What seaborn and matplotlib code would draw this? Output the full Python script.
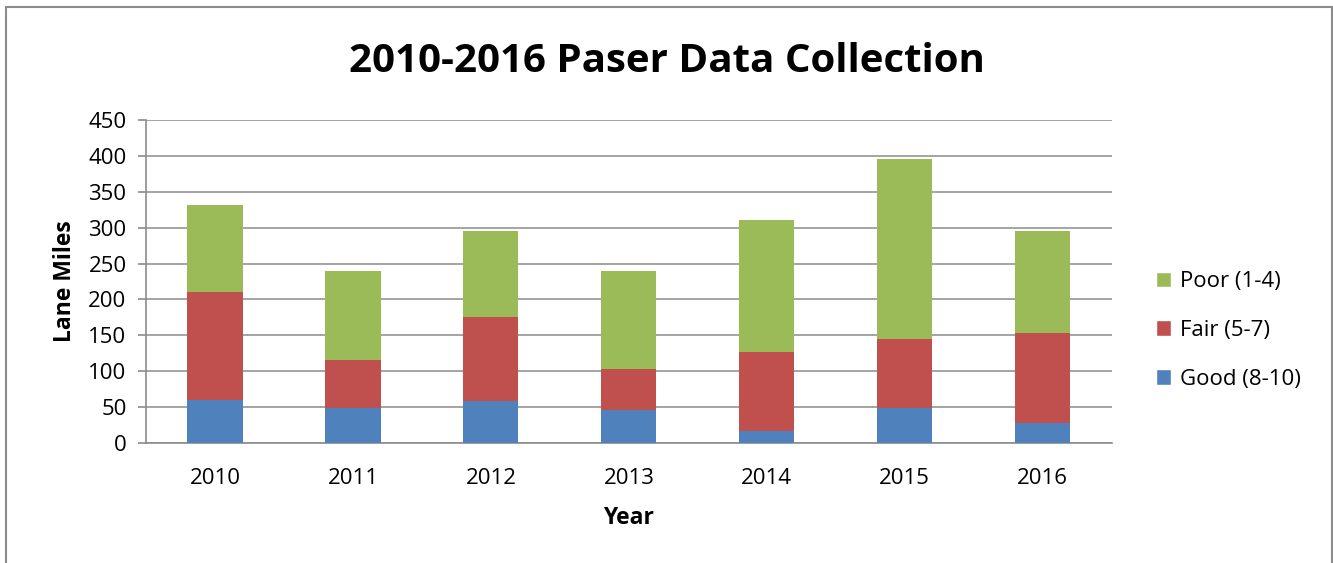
import numpy as np
import pandas as pd
import matplotlib.pyplot as plt
import seaborn as sns
from matplotlib.patches import Patch, Rectangle

# Data (lane miles)
years = ["2010", "2011", "2012", "2013", "2014", "2015", "2016"]
good = [60, 49, 59, 46, 17, 49, 28]
fair = [150, 66, 116, 57, 110, 96, 125]
poor = [121, 124, 121, 136, 184, 251, 143]

labels = ["Good (8-10)", "Fair (5-7)", "Poor (1-4)"]
colors = ["#4F81BD", "#C0504D", "#9BBB59"]

df = pd.DataFrame({"Year": years, "Good": good, "Fair": fair, "Poor": poor})
df["GoodTop"] = df["Good"]
df["FairTop"] = df["Good"] + df["Fair"]
df["PoorTop"] = df["FairTop"] + df["Poor"]

sns.set_style("white")
plt.rcParams["font.family"] = ["Open Sans", "DejaVu Sans"]
plt.rcParams["text.color"] = "black"
plt.rcParams["axes.labelcolor"] = "black"
plt.rcParams["xtick.color"] = "black"
plt.rcParams["ytick.color"] = "black"

fig = plt.figure(figsize=(13.33, 5.63), dpi=100)
ax = fig.add_axes([0.1095, 0.2131, 0.7245, 0.5737])

# Stacked bars: draw cumulative totals from tallest down
for col, c in zip(["PoorTop", "FairTop", "GoodTop"], colors[::-1]):
    sns.barplot(data=df, x="Year", y=col, color=c, width=0.4,
                saturation=1, ax=ax, zorder=3, linewidth=0)

ax.set_ylim(0, 450)
ax.set_xlim(-0.5, 6.5)
ax.set_yticks(np.arange(0, 451, 50))
ax.yaxis.grid(True, color="#8c8c8c", linewidth=1.1, zorder=0)
ax.set_axisbelow(True)

for s in ["top", "right"]:
    ax.spines[s].set_visible(False)
for s in ["left", "bottom"]:
    ax.spines[s].set_color("#8c8c8c")
    ax.spines[s].set_linewidth(1.2)

ax.set_xticks(np.arange(-0.5, 7, 1), minor=True)
ax.tick_params(axis="x", which="major", length=0, pad=18, labelsize=16)
ax.tick_params(axis="x", which="minor", length=8, color="#8c8c8c", width=1.2)
ax.tick_params(axis="y", length=6, color="#8c8c8c", width=1.2, labelsize=16,
               left=True, pad=8)

ax.set_xlabel("Year", fontsize=16.5, fontweight="bold", labelpad=12)
ax.set_ylabel("Lane Miles", fontsize=16.5, fontweight="bold", labelpad=8)

fig.text(0.5, 0.89, "2010-2016 Paser Data Collection", fontsize=29,
         fontweight="bold", ha="center", va="center")

handles = [Patch(facecolor=c, label=l) for c, l in zip(colors[::-1], labels[::-1])]
fig.legend(handles=handles, loc="center left", bbox_to_anchor=(0.867, 0.413),
           frameon=False, fontsize=16, handlelength=0.7, handleheight=0.7,
           handletextpad=0.4, labelspacing=1.25, borderpad=0, borderaxespad=0)

# Outer chart frame
fig.patches.append(Rectangle((6 / 1333, -0.05), 1326 / 1333, 1.05 - 7 / 563,
                             transform=fig.transFigure, fill=False,
                             edgecolor="#8c8c8c", linewidth=1.5))

fig.savefig("out.png", dpi=100)
